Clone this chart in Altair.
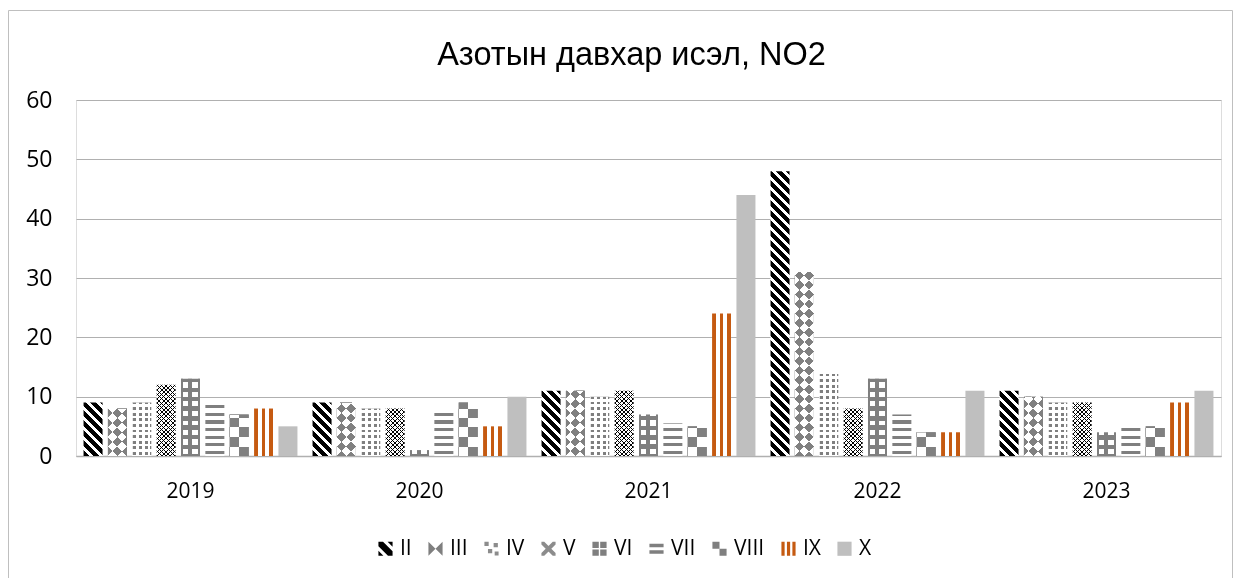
import math
import altair as alt
import pandas as pd

# ---------------- data ----------------
YEARS = ["2019", "2020", "2021", "2022", "2023"]
SERIES = ["II", "III", "IV", "V", "VI", "VII", "VIII", "IX", "X"]
II = [9, 9, 11, 48, 11]
III = [8, 9, 11, 31, 10]
IV = [9, 8, 10, 14, 9]
V = [12, 8, 11, 8, 9]
VI = [13, 1, 7, 13, 4]
VII = [9, 8, 5.5, 7, 5]
VIII = [7, 9, 5, 4, 5]
IX = [8, 5, 24, 4, 9]
X = [5, 10, 44, 11, 11]
VALUES = {"II": II, "III": III, "IV": IV, "V": V, "VI": VI,
          "VII": VII, "VIII": VIII, "IX": IX, "X": X}
TITLE = "Азотын давхар исэл, NO2"

df = pd.DataFrame([{"year": y, "series": s, "value": VALUES[s][i]}
                   for s in SERIES for i, y in enumerate(YEARS)])

# ---------------- layout ----------------
PLOT_W, PLOT_H, YMAX = 1145, 356, 60
PAD_IN, PAD_OUT = 0.22, 0.31
STEP = (PLOT_W / len(YEARS)) / (len(SERIES) - PAD_IN + 2 * PAD_OUT)
BW = STEP * (1 - PAD_IN)
PX = PLOT_H / YMAX

K, W, G = "#000000", "#ffffff", "#7f7f7f"
ORANGE, LGRAY = "#C55A11", "#BFBFBF"


def band_stops(L, period, on, c_on, c_off, phase=0.0):
    stops = []
    n = math.floor(-phase / period) - 1
    pos = phase + n * period
    while pos < L:
        for a, b, c in ((pos, pos + on, c_on), (pos + on, pos + period, c_off)):
            a, b = max(a, 0.0), min(b, L)
            if b > a:
                stops.append({"offset": round(a / L, 5), "color": c})
                stops.append({"offset": round(b / L, 5), "color": c})
        pos += period
    return stops


def lin(x1, y1, x2, y2, stops):
    return {"gradient": "linear", "x1": x1, "y1": y1, "x2": x2, "y2": y2, "stops": stops}


def rows(h, period, on, c_on, c_off, phase=0.0):
    return lin(0, 1, 0, 0, band_stops(h, period, on, c_on, c_off, phase))


def cols(period, on, c_on, c_off, phase=0.0):
    return lin(0, 0, 1, 0, band_stops(BW, period, on, c_on, c_off, phase))


def back(h, period, on, c_on, c_off, phase=0.0):  # "\" stripes
    L = BW + h
    k = L / (BW ** 2 + h ** 2)
    return lin(0, 1, round(k * BW, 6), round(1 - k * h, 6), band_stops(L, period, on, c_on, c_off, phase))


def fwd(h, period, on, c_on, c_off, phase=0.0):  # "/" stripes
    L = BW + h
    k = L / (BW ** 2 + h ** 2)
    return lin(0, 0, round(k * BW, 6), round(k * h, 6), band_stops(L, period, on, c_on, c_off, phase))


BASE = {
    "II": lambda h: back(h, 10, 5.5, K, W),
    "III": lambda h: fwd(h, 19, 9.5, K, W, (BW + h) % 9.5),
    "IV": lambda h: rows(h, 5.6, 2.8, G, W, 1.2),
    "V": lambda h: fwd(h, 4.4, 1.05, K, W, h),
    "VI": lambda h: rows(h, 9.5, 5, W, G, 2),
    "VII": lambda h: rows(h, 7.6, 3.2, G, W, 2),
    "VIII": lambda h: rows(h, 19, 9.5, K, W),
    "IX": lambda h: cols(7.6, 3.8, ORANGE, W),
    "X": lambda h: LGRAY,
}
OVER = {
    "difference": {"III": lambda h: back(h, 19, 9.5, W, K),
                   "VIII": lambda h: cols(BW, BW / 2, W, K)},
    "lighten": {"IV": lambda h: cols(5.6, 3, G, W, 1.2)},
    "multiply": {"V": lambda h: back(h, 4.4, 1.05, K, W)},
    "darken": {"VI": lambda h: cols(9.5, 5.5, W, G, 2)},
}


def fill_for(funcs):
    conds = []
    for s, fn in funcs.items():
        for i, y in enumerate(YEARS):
            h = VALUES[s][i] * PX
            conds.append({"test": f"datum.series === '{s}' && datum.year === '{y}'",
                          "value": fn(h)})
    return alt.value("#ffffff", condition=conds)


LABEL_FONT = "Open Sans"
x_enc = alt.X("year:N", scale=alt.Scale(domain=YEARS, paddingInner=0, paddingOuter=0),
              axis=alt.Axis(title=None, labelAngle=0, ticks=False, grid=False,
                            domainColor="#b0b0b0", domainWidth=1.5,
                            labelFont=LABEL_FONT, labelFontSize=21, labelColor="#000000",
                            labelPadding=24))
xo_enc = alt.XOffset("series:N", scale=alt.Scale(domain=SERIES, paddingInner=PAD_IN,
                                                  paddingOuter=PAD_OUT))
y_enc = alt.Y("value:Q", stack=False, scale=alt.Scale(domain=[0, YMAX], nice=False),
              axis=alt.Axis(title=None, values=[0, 10, 20, 30, 40, 50, 60], ticks=False,
                            domain=False, gridColor="#b0b0b0", gridWidth=1,
                            labelFont=LABEL_FONT, labelFontSize=23, labelColor="#000000",
                            labelPadding=24))

base = alt.Chart(df)

layers = []
layers.append(base.mark_bar().encode(x=x_enc, xOffset=xo_enc, y=y_enc, fill=fill_for(BASE)))
for mode, funcs in OVER.items():
    layers.append(
        base.mark_bar(blend=mode)
        .transform_filter(alt.FieldOneOfPredicate(field="series", oneOf=list(funcs)))
        .encode(x=x_enc, xOffset=xo_enc, y=y_enc, fill=fill_for(funcs))
    )
layers.append(
    base.mark_bar(color="#ffffff", opacity=0.5)
    .transform_filter(alt.FieldOneOfPredicate(field="series", oneOf=["III", "VIII"]))
    .encode(x=x_enc, xOffset=xo_enc, y=y_enc)
)

# legend (invisible points, visible symbols)
LEG_COLORS = [K, G, "#8c8c8c", "#8c8c8c", G, G, G, ORANGE, LGRAY]
LEG_SHAPES = [
    "M-1,-1L-0.35,-1L1,0.35L1,1L0.35,1L-1,-0.35Z M0.3,-1L1,-1L1,-0.3Z M-1,0.3L-0.3,1L-1,1Z",
    "M-1,-1L0,0L-1,1Z M1,-1L0,0L1,1Z",
    "M-1,-1h0.6v0.6h-0.6Z M0.3,-0.8h0.6v0.6h-0.6Z M-0.5,0.05h0.6v0.6h-0.6Z M0.45,0.4h0.55v0.55h-0.55Z",
    "M-1,-1L-0.6,-1L1,0.6L1,1L0.6,1L-1,-0.6Z M1,-1L1,-0.6L-0.6,1L-1,1L-1,0.6L0.6,-1Z",
    "M-1,-1h0.9v0.9h-0.9Z M0.1,-1h0.9v0.9h-0.9Z M-1,0.1h0.9v0.9h-0.9Z M0.1,0.1h0.9v0.9h-0.9Z",
    "M-1,-0.7h2v0.5h-2Z M-1,0.2h2v0.5h-2Z",
    "M-1,-1h1v1h-1Z M0,0h1v1h-1Z",
    "M-1,-1h0.45v2h-0.45Z M-0.22,-1h0.45v2h-0.45Z M0.55,-1h0.45v2h-0.45Z",
    "square",
]
leg = alt.Legend(orient="none", legendX=299, legendY=438, direction="horizontal", title=None,
                 symbolSize=200, symbolStrokeWidth=0, symbolOpacity=1, padding=0,
                 labelFont=LABEL_FONT, labelFontSize=21, labelColor="#000000",
                 labelOffset=4, columnPadding=13)
layers.append(
    base.mark_point(filled=True, opacity=0).encode(
        x=x_enc, xOffset=xo_enc, y=y_enc,
        color=alt.Color("series:N", scale=alt.Scale(domain=SERIES, range=LEG_COLORS), legend=leg),
        shape=alt.Shape("series:N", scale=alt.Scale(domain=SERIES, range=LEG_SHAPES), legend=leg),
    )
)

# outer chart frame
frame = alt.Chart(pd.DataFrame({"f": [0]})).mark_rect(
    fill="transparent", stroke="#bfbfbf", strokeWidth=1
).encode(x=alt.value(-67.5), x2=alt.value(1156.5), y=alt.value(-89.5), y2=alt.value(540))
layers.append(frame)

chart = alt.layer(*layers).properties(
    width=PLOT_W, height=PLOT_H,
    padding={"left": 68, "top": 92, "right": 12, "bottom": 130},
    autosize=alt.AutoSizeParams(type="none"),
    title=alt.TitleParams(TITLE, font="Liberation Sans", fontSize=32.5, fontWeight="normal",
                          color="#000000", anchor="middle", frame="group", dx=-17,
                          baseline="alphabetic", offset=0, dy=87),
).configure_view(stroke=None).configure(background="#ffffff")

chart.save("out.html", embed_options={"renderer": "svg", "actions": False})
